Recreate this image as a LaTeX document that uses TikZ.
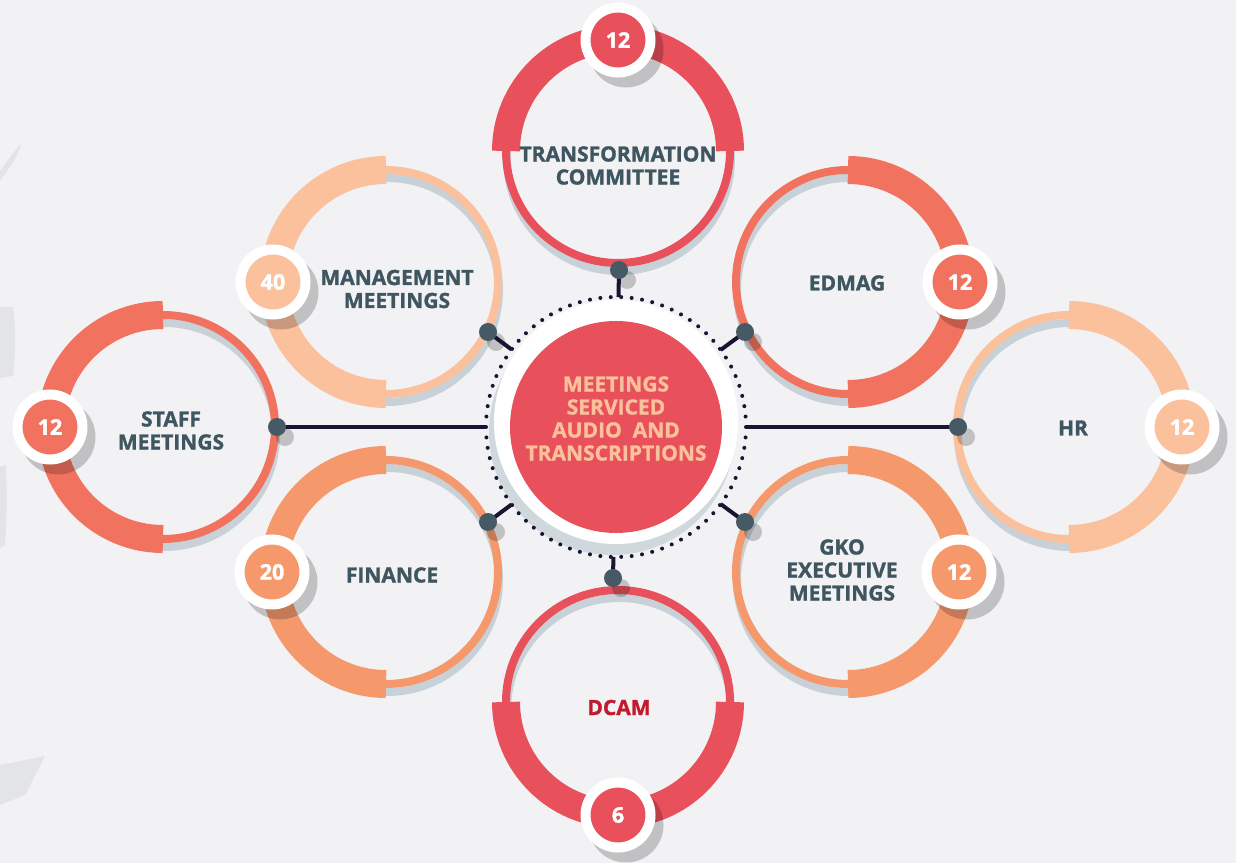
\documentclass[tikz,border=0pt]{standalone}
\usepackage{fontspec}
\setmainfont{Open Sans}[BoldFeatures={FakeBold=1.4}]
\definecolor{bgc}{HTML}{F2F2F5}
\definecolor{cred}{HTML}{E8505B}
\definecolor{ccoral}{HTML}{F27260}
\definecolor{corange}{HTML}{F5996D}
\definecolor{cpeach}{HTML}{FBC09C}
\definecolor{labelc}{HTML}{3F5660}
\definecolor{dcamc}{HTML}{C21A2C}
\definecolor{rshadow}{HTML}{C8D1D8}
\definecolor{dotc}{HTML}{455A64}
\definecolor{linec}{HTML}{1A1433}
\definecolor{coreshadow}{HTML}{CFD8DC}
\definecolor{faint}{HTML}{E3E4E6}
\tikzset{
  lbl/.style={font=\bfseries\fontsize{21pt}{23pt}\selectfont, text=labelc, align=center, inner sep=0pt},
  badge/.style={circle, draw=white, line width=10pt, minimum size=65pt, inner sep=0pt, text=white,
    font=\bfseries\fontsize{21.5pt}{21.5pt}\selectfont},
  bshadow/.style={fill=black, fill opacity=0.2},
  dotnode/.style={circle, fill=dotc, minimum size=18pt, inner sep=0pt},
  conn/.style={draw=linec, line width=4pt},
}
\newcommand{\mysat}[3]{%
  \draw[rshadow, line width=8pt] ([shift={(1pt,-8pt)}]#1) circle[radius=112pt];
  \draw[#2, line width=8pt] (#1) circle[radius=112pt];
  \draw[#2, line width=28pt] (#1) ++(#3:112pt) arc[start angle=#3, delta angle=180, radius=112pt];
}
\newcommand{\mybadge}[4]{% name, position, colour, number
  \fill[bshadow] ([shift={(8pt,-10pt)}]#2) circle[radius=37.5pt];
  \node[badge, fill=#3] (#1) at (#2) {#4};
}
\begin{document}
\begin{tikzpicture}[x=1pt,y=1pt]
\fill[bgc] (0,0) rectangle (1236,863);
\useasboundingbox (0,0) rectangle (1236,863);
% faint background decorations on the left edge
\fill[faint] (0,682) .. controls (9,694) and (17,706) .. (22,720) .. controls (14,712) and (6,700) .. (0,692) -- cycle;
\fill[faint] (0,485) -- (13,487) .. controls (16,510) and (16,535) .. (13,556) -- (0,556) -- cycle;
\fill[faint] (0,315) -- (5,318) .. controls (7,345) and (7,370) .. (6,398) -- (0,396) -- cycle;
\fill[faint] (0,98) -- (45,107) -- (25,68) -- (0,58) -- cycle;

% centres of satellites
\coordinate (T) at (618,712);
\coordinate (G) at (386,581);
\coordinate (S) at (163,436);
\coordinate (F) at (386,291);
\coordinate (E) at (848,581);
\coordinate (H) at (1069,436);
\coordinate (K) at (848,291);
\coordinate (D) at (618,161);
\coordinate (M) at (616,436);

\mysat{T}{cred}{0}
\mysat{G}{cpeach}{90}
\mysat{S}{ccoral}{90}
\mysat{F}{corange}{90}
\mysat{E}{ccoral}{-90}
\mysat{H}{cpeach}{-90}
\mysat{K}{corange}{-90}
\mysat{D}{cred}{180}

% central disk
\fill[coreshadow] (612,431) circle[radius=123pt];
\fill[white] (616,441) circle[radius=122pt];
\node[circle, fill=cred, minimum size=212pt, inner sep=0pt] (core) at (M) {};
\node[circle, minimum size=260pt, inner sep=0pt, outer sep=0pt] (ring) at (M) {};
\foreach \i in {0,...,77} \fill[linec] (M) ++(4.615385*\i:130pt) circle[radius=2pt];
\node[font=\bfseries\fontsize{21pt}{23pt}\selectfont, text=cpeach, align=center, inner sep=0pt] (coretext) at (616,444.5)
  {MEETINGS\\SERVICED\\AUDIO\ \ AND\\TRANSCRIPTIONS};

% connector points
\coordinate (pT) at (619,593);
\coordinate (pG) at (488,531);
\coordinate (pS) at (277,436);
\coordinate (pF) at (488,341);
\coordinate (pE) at (745,531);
\coordinate (pH) at (958,436);
\coordinate (pK) at (745,341);
\coordinate (pD) at (613,285);
\foreach \p in {pT,pG,pS,pF,pE,pH,pK,pD}
  \fill[bshadow] ([shift={(8pt,-10pt)}]\p) circle[radius=9pt];
\foreach \p in {pT,pG,pS,pF,pE,pH,pK,pD}
  \draw[conn] (\p) -- (ring);
\foreach \p in {pT,pG,pS,pF,pE,pH,pK,pD}
  \node[dotnode] (d\p) at (\p) {};

% badges
\mybadge{bT}{618,823}{cred}{12}
\mybadge{bG}{273,581}{cpeach}{40}
\mybadge{bS}{50,436}{ccoral}{12}
\mybadge{bF}{272,291}{corange}{20}
\mybadge{bE}{960,581}{ccoral}{12}
\mybadge{bH}{1182,436}{cpeach}{12}
\mybadge{bK}{959,291}{corange}{12}
\mybadge{bD}{618,48}{cred}{6}

% labels
\node[lbl] (tT) at (618,697.5) {TRANSFORMATION\\COMMITTEE};
\node[lbl] (tG) at (397,574) {MANAGEMENT\\MEETINGS};
\node[lbl] (tS) at (171,432.5) {STAFF\\MEETINGS};
\node[lbl] (tF) at (392,288) {FINANCE};
\node[lbl] (tE) at (847,580) {EDMAG};
\node[lbl] (tH) at (1073,435) {HR};
\node[lbl] (tK) at (842,293) {GKO\\EXECUTIVE\\MEETINGS};
\node[lbl, text=dcamc] (tD) at (619,155.5) {DCAM};
\end{tikzpicture}
\end{document}
